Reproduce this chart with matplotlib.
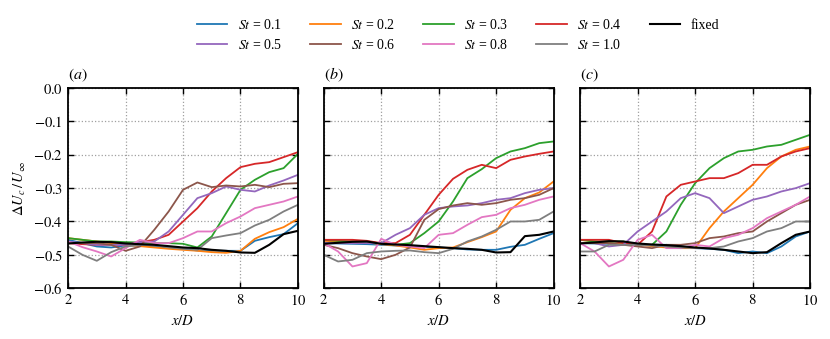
import matplotlib
matplotlib.use('Agg')
import matplotlib.pyplot as plt

plt.rcParams['font.family'] = ['Liberation Serif', 'DejaVu Serif']
plt.rcParams['mathtext.fontset'] = 'stix'
plt.rcParams['font.size'] = 8.5

x_grid = [2, 2.5, 3, 3.5, 4, 4.5, 5, 5.5, 6, 6.5, 7, 7.5, 8, 8.5, 9, 9.5, 10]
st_labels = ['0.1', '0.2', '0.3', '0.4', '0.5', '0.6', '0.8', '1.0']
st_colors = ['tab:blue', 'tab:orange', 'tab:green', 'tab:red',
             'tab:purple', 'tab:brown', 'tab:pink', 'tab:gray']
panel_labels = ['$(a)$', '$(b)$', '$(c)$']
y_ticks = [0.0, -0.1, -0.2, -0.3, -0.4, -0.5, -0.6]
x_ticks = [2, 4, 6, 8, 10]

# panel (a)
a_st01 = [-0.455, -0.465, -0.475, -0.478, -0.472, -0.472, -0.475, -0.478, -0.482, -0.487, -0.488, -0.488, -0.488, -0.458, -0.447, -0.438, -0.405]
a_st02 = [-0.450, -0.455, -0.460, -0.465, -0.470, -0.474, -0.478, -0.482, -0.485, -0.488, -0.492, -0.494, -0.488, -0.452, -0.432, -0.417, -0.392]
a_st03 = [-0.450, -0.455, -0.460, -0.460, -0.462, -0.463, -0.465, -0.465, -0.467, -0.478, -0.445, -0.375, -0.305, -0.275, -0.252, -0.240, -0.197]
a_st04 = [-0.465, -0.468, -0.470, -0.470, -0.470, -0.462, -0.455, -0.440, -0.400, -0.360, -0.310, -0.270, -0.237, -0.227, -0.222, -0.207, -0.192]
a_st05 = [-0.460, -0.465, -0.470, -0.470, -0.470, -0.462, -0.460, -0.430, -0.380, -0.330, -0.315, -0.295, -0.305, -0.310, -0.292, -0.277, -0.260]
a_st06 = [-0.465, -0.465, -0.465, -0.470, -0.488, -0.475, -0.425, -0.370, -0.305, -0.283, -0.297, -0.292, -0.295, -0.290, -0.297, -0.287, -0.285]
a_st08 = [-0.460, -0.477, -0.490, -0.505, -0.480, -0.455, -0.465, -0.465, -0.450, -0.430, -0.430, -0.405, -0.385, -0.360, -0.350, -0.340, -0.325]
a_st10 = [-0.475, -0.500, -0.518, -0.492, -0.475, -0.470, -0.470, -0.478, -0.482, -0.485, -0.450, -0.442, -0.435, -0.412, -0.395, -0.370, -0.350]
a_fixed = [-0.466, -0.463, -0.461, -0.462, -0.466, -0.468, -0.470, -0.474, -0.478, -0.480, -0.485, -0.488, -0.493, -0.494, -0.470, -0.438, -0.428]

# panel (b)
b_st01 = [-0.465, -0.466, -0.467, -0.468, -0.470, -0.472, -0.474, -0.476, -0.478, -0.480, -0.484, -0.485, -0.485, -0.476, -0.470, -0.452, -0.435]
b_st02 = [-0.458, -0.460, -0.460, -0.463, -0.468, -0.472, -0.478, -0.485, -0.480, -0.478, -0.462, -0.447, -0.430, -0.365, -0.330, -0.313, -0.280]
b_st03 = [-0.455, -0.458, -0.460, -0.462, -0.465, -0.470, -0.465, -0.435, -0.400, -0.340, -0.270, -0.243, -0.210, -0.190, -0.180, -0.165, -0.160]
b_st04 = [-0.455, -0.455, -0.455, -0.458, -0.465, -0.465, -0.440, -0.380, -0.320, -0.272, -0.245, -0.230, -0.240, -0.215, -0.205, -0.197, -0.190]
b_st05 = [-0.465, -0.465, -0.465, -0.465, -0.465, -0.440, -0.420, -0.380, -0.360, -0.355, -0.352, -0.345, -0.335, -0.330, -0.315, -0.305, -0.300]
b_st06 = [-0.470, -0.480, -0.495, -0.505, -0.513, -0.500, -0.478, -0.395, -0.363, -0.352, -0.345, -0.350, -0.345, -0.335, -0.330, -0.320, -0.300]
b_st08 = [-0.465, -0.490, -0.535, -0.525, -0.452, -0.470, -0.475, -0.480, -0.440, -0.435, -0.410, -0.387, -0.380, -0.360, -0.350, -0.335, -0.325]
b_st10 = [-0.500, -0.520, -0.515, -0.495, -0.490, -0.488, -0.487, -0.492, -0.495, -0.482, -0.460, -0.445, -0.425, -0.400, -0.400, -0.395, -0.370]
b_fixed = [-0.467, -0.464, -0.461, -0.460, -0.467, -0.469, -0.471, -0.474, -0.477, -0.480, -0.482, -0.485, -0.493, -0.492, -0.444, -0.440, -0.430]

# panel (c)
c_st01 = [-0.465, -0.466, -0.467, -0.468, -0.470, -0.470, -0.470, -0.475, -0.480, -0.482, -0.485, -0.495, -0.490, -0.495, -0.475, -0.445, -0.430]
c_st02 = [-0.455, -0.460, -0.465, -0.468, -0.470, -0.474, -0.478, -0.480, -0.480, -0.420, -0.370, -0.330, -0.290, -0.240, -0.205, -0.185, -0.175]
c_st03 = [-0.455, -0.460, -0.460, -0.460, -0.470, -0.470, -0.430, -0.350, -0.285, -0.240, -0.210, -0.190, -0.185, -0.175, -0.170, -0.155, -0.140]
c_st04 = [-0.455, -0.455, -0.455, -0.465, -0.470, -0.430, -0.325, -0.290, -0.280, -0.270, -0.270, -0.255, -0.230, -0.230, -0.205, -0.190, -0.180]
c_st05 = [-0.465, -0.465, -0.475, -0.470, -0.430, -0.400, -0.370, -0.330, -0.315, -0.330, -0.375, -0.355, -0.335, -0.325, -0.310, -0.300, -0.285]
c_st06 = [-0.465, -0.465, -0.465, -0.470, -0.475, -0.480, -0.470, -0.470, -0.465, -0.450, -0.445, -0.435, -0.430, -0.400, -0.375, -0.350, -0.335]
c_st08 = [-0.465, -0.490, -0.535, -0.515, -0.455, -0.440, -0.480, -0.480, -0.470, -0.475, -0.450, -0.440, -0.420, -0.390, -0.370, -0.350, -0.325]
c_st10 = [-0.490, -0.490, -0.470, -0.470, -0.470, -0.472, -0.475, -0.478, -0.480, -0.480, -0.475, -0.460, -0.450, -0.430, -0.420, -0.400, -0.400]
c_fixed = [-0.466, -0.463, -0.459, -0.460, -0.466, -0.469, -0.471, -0.474, -0.478, -0.481, -0.485, -0.490, -0.495, -0.492, -0.465, -0.440, -0.430]

panels = [
    ([a_st01, a_st02, a_st03, a_st04, a_st05, a_st06, a_st08, a_st10], a_fixed),
    ([b_st01, b_st02, b_st03, b_st04, b_st05, b_st06, b_st08, b_st10], b_fixed),
    ([c_st01, c_st02, c_st03, c_st04, c_st05, c_st06, c_st08, c_st10], c_fixed),
]

fig = plt.figure(figsize=(8.3, 3.39), dpi=100)
lefts = [0.082, 0.390, 0.699]
axes = [fig.add_axes([l, 0.150, 0.277, 0.590]) for l in lefts]

for i, (ax, (curves, fixed)) in enumerate(zip(axes, panels)):
    for ys, lab, col in zip(curves, st_labels, st_colors):
        ax.plot(x_grid, ys, color=col, lw=1.3, label='$St$ = ' + lab)
    ax.plot(x_grid, fixed, color='black', lw=1.5, label='fixed')
    ax.set_xlim(2, 10)
    ax.set_ylim(-0.6, 0.0)
    ax.set_xticks(x_ticks)
    ax.set_xticklabels(['$%d$' % t for t in x_ticks])
    ax.set_yticks(y_ticks)
    ax.grid(True, linestyle=':', color='#a0a0a0', lw=0.9)
    ax.tick_params(direction='in', top=True, right=True, labelsize=10.5,
                   length=4, width=1)
    for s in ax.spines.values():
        s.set_linewidth(1.3)
    ax.set_xlabel('$x/D$', fontsize=10.5)
    ax.text(0.0, 1.02, panel_labels[i], transform=ax.transAxes,
            fontsize=11.5, ha='left', va='bottom')
    if i == 0:
        ax.set_yticklabels(['$%.1f$' % t if t == 0 else '$-%.1f$' % -t
                            for t in y_ticks])
        ax.set_ylabel(r'$\Delta U_c\,/\,U_\infty$', fontsize=10.5)
    else:
        ax.set_yticklabels([])

# legend fills row by row: 0.1 0.2 0.3 0.4 fixed / 0.5 0.6 0.8 1.0
handles, labels = axes[0].get_legend_handles_labels()
order = [0, 4, 1, 5, 2, 6, 3, 7, 8]
fig.legend([handles[k] for k in order], [labels[k] for k in order],
           loc='upper center', bbox_to_anchor=(0.552, 0.985),
           ncol=5, frameon=False, fontsize=10, handlelength=2.2,
           handletextpad=0.75, columnspacing=2.0, labelspacing=0.45)

fig.savefig('out.png', dpi=100)
